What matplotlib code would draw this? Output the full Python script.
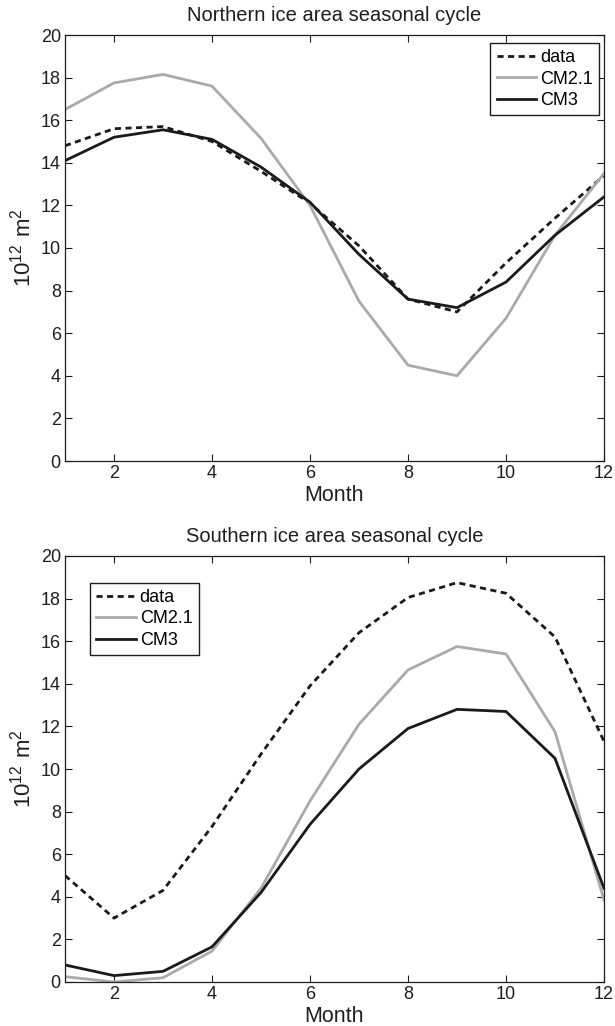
import matplotlib
matplotlib.use("Agg")
import matplotlib.pyplot as plt

plt.rcParams['font.family'] = ['Liberation Sans', 'DejaVu Sans']
plt.rcParams['mathtext.default'] = 'regular'

months = list(range(1, 13))

north_data = [14.8, 15.6, 15.7, 15.0, 13.6, 12.1, 10.1, 7.6, 7.0, 9.3, 11.4, 13.4]
north_cm21 = [16.5, 17.75, 18.15, 17.6, 15.15, 12.0, 7.5, 4.5, 4.0, 6.7, 10.6, 13.5]
north_cm3 = [14.1, 15.2, 15.55, 15.1, 13.8, 12.15, 9.7, 7.6, 7.2, 8.4, 10.6, 12.4]

south_data = [5.0, 3.0, 4.3, 7.3, 10.7, 13.9, 16.4, 18.05, 18.75, 18.25, 16.2, 11.3]
south_cm21 = [0.25, 0.0, 0.2, 1.45, 4.4, 8.5, 12.1, 14.65, 15.75, 15.4, 11.75, 3.85]
south_cm3 = [0.8, 0.3, 0.5, 1.65, 4.2, 7.4, 10.0, 11.9, 12.8, 12.7, 10.5, 4.4]

titles = ['Northern ice area seasonal cycle', 'Southern ice area seasonal cycle']
series_labels = ['data', 'CM2.1', 'CM3']
yticks = list(range(0, 21, 2))
xticks = list(range(2, 13, 2))

fig = plt.figure(figsize=(6.15, 10.26), dpi=100)
ax1 = fig.add_axes([65/615, 1-461/1026, 539/615, 426/1026])
ax2 = fig.add_axes([65/615, 1-982/1026, 539/615, 426/1026])

black = '#1a1a1a'
gray = '#aaaaaa'
txt = '#1e1e1e'

def draw(ax, d, c21, c3, title, legloc, anchor):
    ax.plot(months, d, color=black, lw=2.0, ls=(0, (2.2, 1.6)), label=series_labels[0])
    ax.plot(months, c21, color=gray, lw=2.0, label=series_labels[1])
    ax.plot(months, c3, color=black, lw=2.0, label=series_labels[2])
    ax.set_xlim(1, 12)
    ax.set_ylim(0, 20)
    ax.set_xticks(xticks)
    ax.set_yticks(yticks)
    ax.tick_params(direction='in', top=True, right=True, labelsize=13, length=5, width=0.8, pad=3, colors=txt)
    for s in ax.spines.values():
        s.set_linewidth(0.9)
        s.set_color(txt)
    ax.set_title(title, fontsize=14.5, pad=10, color=txt)
    ax.set_xlabel('Month', fontsize=15.5, labelpad=2, color=txt)
    ax.set_ylabel(r'$10^{12}\ m^2$', fontsize=16, labelpad=4, color=txt)
    leg = ax.legend(loc=legloc, bbox_to_anchor=anchor, borderaxespad=0, fancybox=False,
                    edgecolor=txt, framealpha=1, fontsize=13, handlelength=2.2,
                    handletextpad=0.2, labelspacing=0.25, borderpad=0.35)
    leg.get_frame().set_linewidth(1.0)

draw(ax1, north_data, north_cm21, north_cm3, titles[0], 'upper right', (0.9907, 0.982))
draw(ax2, south_data, south_cm21, south_cm3, titles[1], 'upper left', (0.0464, 0.9377))

fig.savefig('out.png', dpi=100)
